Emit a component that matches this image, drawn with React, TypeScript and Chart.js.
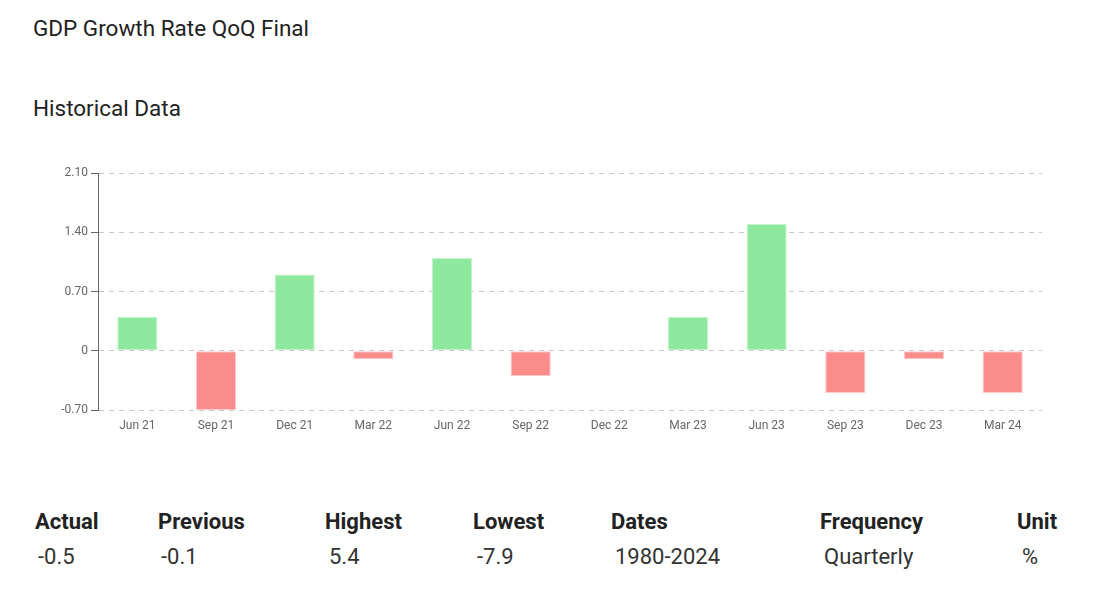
import React, { useEffect, useRef } from "react";
import { Chart, registerables } from "chart.js";

Chart.register(...registerables);

const categories = ["Jun 21", "Sep 21", "Dec 21", "Mar 22", "Jun 22", "Sep 22", "Dec 22", "Mar 23", "Jun 23", "Sep 23", "Dec 23", "Mar 24"];
const values = [0.4, -0.7, 0.9, -0.1, 1.1, -0.3, 0, 0.4, 1.5, -0.5, -0.1, -0.5];
const yMin = -0.7;
const yMax = 2.1;
const yStep = 0.7;

const statLabels = ["Actual", "Previous", "Highest", "Lowest", "Dates", "Frequency", "Unit"];
const statValues = ["-0.5", "-0.1", "5.4", "-7.9", "1980-2024", "Quarterly", "%"];
const statX = [35, 158, 325, 473, 611, 820, 1017];
const statValueX = [38, 161, 329, 477, 615, 824, 1022];

const GREEN = "#8FE8A0";
const GREEN_BORDER = "#C4F3CD";
const RED = "#FA8C8C";
const RED_BORDER = "#FDC9C9";

export default function App() {
  const canvasRef = useRef<HTMLCanvasElement | null>(null);

  useEffect(() => {
    if (!canvasRef.current) return;
    const chart = new Chart(canvasRef.current, {
      type: "bar",
      data: {
        labels: categories,
        datasets: [
          {
            data: values,
            backgroundColor: values.map((v) => (v >= 0 ? GREEN : RED)),
            borderColor: values.map((v) => (v >= 0 ? GREEN_BORDER : RED_BORDER)),
            borderWidth: 1,
            borderSkipped: false,
            barPercentage: 0.51,
            categoryPercentage: 1,
          },
        ],
      },
      options: {
        animation: false,
        responsive: false,
        maintainAspectRatio: false,
        layout: { padding: { top: 23, right: 62, left: 0, bottom: 0 } },
        plugins: { legend: { display: false }, tooltip: { enabled: false }, title: { display: false } },
        scales: {
          x: {
            grid: { display: false, drawTicks: false },
            border: { display: false },
            ticks: { color: "#666", font: { family: "Roboto", size: 12 }, padding: 9, maxRotation: 0 },
            afterFit: (scale: any) => {
              scale.height = 40;
            },
          },
          y: {
            min: yMin,
            max: yMax,
            grid: {
              color: "#c8c8c8",
              lineWidth: 1,
              drawTicks: true,
              tickLength: 7,
              tickColor: "#666",
              tickBorderDash: [],
            } as any,
            border: { display: true, color: "#666", width: 1, dash: [5, 5] } as any,
            ticks: {
              stepSize: yStep,
              color: "#666",
              font: { family: "Roboto", size: 12 },
              padding: 3,
              callback: (v: any) => {
                const n = Number(v);
                if (Math.abs(n) < 1e-9) return "0";
                return n.toFixed(2);
              },
            },
            afterFit: (scale: any) => {
              scale.width = 98;
            },
          },
        },
      },
    } as any);
    return () => chart.destroy();
  }, []);

  const textBase: React.CSSProperties = {
    position: "absolute",
    fontFamily: "Roboto",
    fontSize: 22,
    lineHeight: "22px",
    whiteSpace: "nowrap",
    color: "#222",
  };

  return (
    <div style={{ position: "fixed", left: 0, top: 0, width: 1104, height: 614, background: "#fff", overflow: "hidden" }}>
      <div style={{ ...textBase, fontSize: 22.5, left: 33, top: 17 }}>GDP Growth Rate QoQ Final</div>
      <div style={{ ...textBase, fontSize: 22.5, left: 33, top: 97 }}>Historical Data</div>
      <canvas ref={canvasRef} width={1104} height={300} style={{ position: "absolute", left: 0, top: 150, width: 1104, height: 300 }} />
      {statLabels.map((l, i) => (
        <div key={"l" + i} style={{ ...textBase, left: statX[i], top: 511, fontWeight: 700 }}>{l}</div>
      ))}
      {statValues.map((v, i) => (
        <div key={"v" + i} style={{ ...textBase, left: statValueX[i], top: 546, color: "#333" }}>{v}</div>
      ))}
    </div>
  );
}
